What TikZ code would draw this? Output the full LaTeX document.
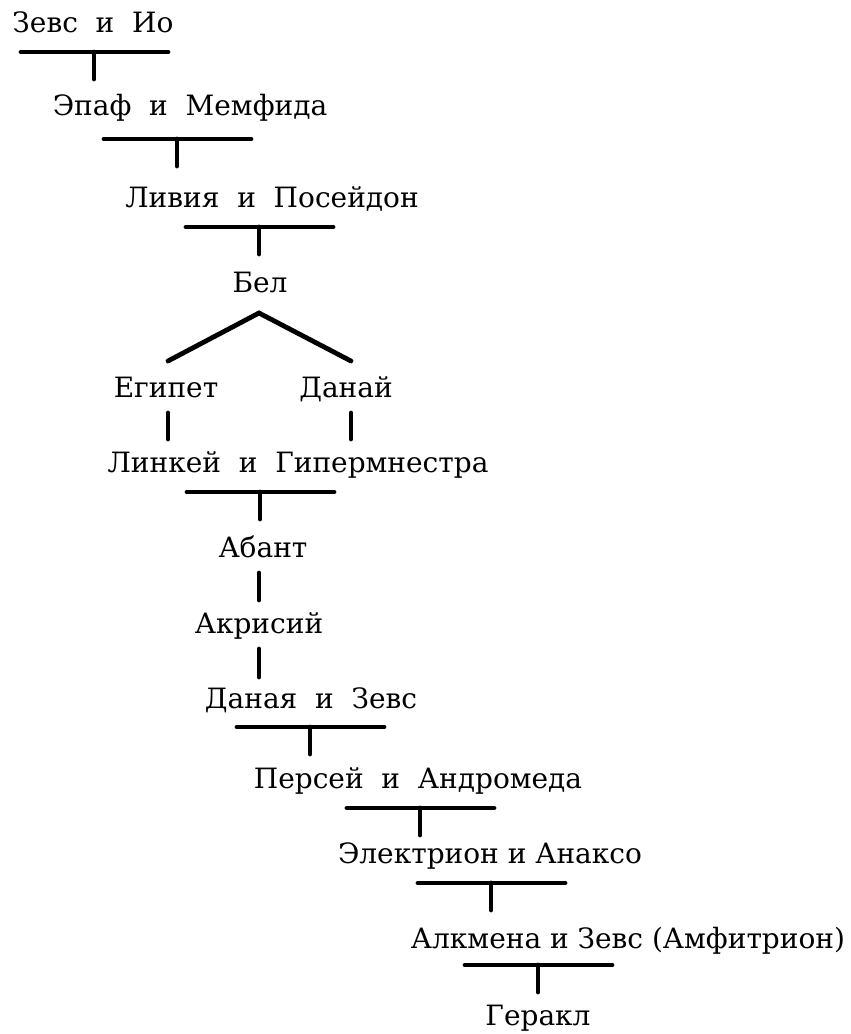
\documentclass[tikz,border=0pt]{standalone}
\usepackage{fontspec}
\setmainfont{DejaVu Serif}
\usetikzlibrary{positioning}
\tikzset{
  person/.style={anchor=base, inner sep=0pt, font=\fontsize{28}{32}\selectfont},
  bondline/.style={line width=4.8pt, line cap=round},
}

\begin{document}
\begin{tikzpicture}[x=1pt, y=-1pt]
  \useasboundingbox (0,0) rectangle (851,1034);
  % names, placed by baseline
  \foreach \nm/\x/\y/\txt in {
    zeusio/93/32/{Зевс\ \ и\ \ Ио},
    epaf/190/115/{Эпаф\ \ и\ \ Мемфида},
    livia/272/207/{Ливия\ \ и\ \ Посейдон},
    bel/260/292/{Бел},
    egypt/166/397/{Египет},
    danai/346/397/{Данай},
    linkey/298/472/{Линкей\ \ и\ \ Гипермнестра},
    abant/263/557/{Абант},
    akrisiy/259/633/{Акрисий},
    danaya/311/708/{Даная\ \ и\ \ Зевс},
    persey/418/788/{Персей\ \ и\ \ Андромеда},
    elektrion/490/863/{Электрион и Анаксо},
    alkmena/628/948/{Алкмена и Зевс (Амфитрион)},
    gerakl/538/1025/{Геракл}
  }{
    \node[person] (\nm) at (\x,\y) {\txt};
  }
  % marriage bars with the drop to the child
  \foreach \nm/\x/\y in {zi/94/52, em/177/139, lp/259/227, lg/260/492,
                         dz/310/727, pa/420/808, ea/491/883, az/538/965}{
    \coordinate (\nm-l) at (\x-73,\y);
    \coordinate (\nm-r) at (\x+74,\y);
    \coordinate (\nm-m) at (\x,\y);
    \coordinate (\nm-d) at (\x,\y+27);
    \draw[bondline] (\nm-l) -- (\nm-r);
    \draw[bondline] (\nm-m) -- (\nm-d);
  }
  % Bel's two sons
  \coordinate (fork) at (259,313);
  \coordinate (fork-l) at (168,361);
  \coordinate (fork-r) at (351,361);
  \draw[bondline] (fork-l) -- (fork) -- (fork-r);
  % single lines of descent
  \foreach \nm/\x/\ya/\yb in {eg/168/413/439, da/351/413/439,
                              ab/259/573/600, ak/259/649/677}{
    \coordinate (\nm-t) at (\x,\ya);
    \coordinate (\nm-b) at (\x,\yb);
    \draw[bondline] (\nm-t) -- (\nm-b);
  }
\end{tikzpicture}
\end{document}
